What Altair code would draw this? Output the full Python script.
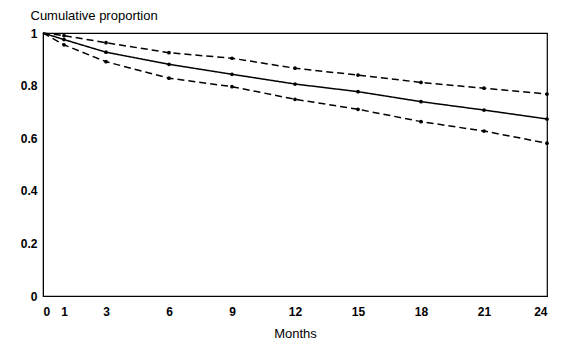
import altair as alt
import pandas as pd

months = [0, 1, 3, 6, 9, 12, 15, 18, 21, 24]
upper = [1.0, 0.99, 0.963, 0.925, 0.904, 0.866, 0.840, 0.812, 0.790, 0.768]
middle = [1.0, 0.975, 0.927, 0.881, 0.843, 0.806, 0.777, 0.739, 0.707, 0.673]
lower = [1.0, 0.955, 0.891, 0.828, 0.796, 0.748, 0.710, 0.663, 0.627, 0.581]
x_ticks = [0, 1, 3, 6, 9, 12, 15, 18, 21, 24]
y_ticks = [0, 0.2, 0.4, 0.6, 0.8, 1.0]

rows = []
for name, vals in [("upper", upper), ("middle", middle), ("lower", lower)]:
    for m, v in zip(months, vals):
        rows.append({"series": name, "month": m, "value": v})
df = pd.DataFrame(rows)

font = "Liberation Sans"

x_enc = alt.X("month:Q", scale=alt.Scale(domain=[0, 24], nice=False),
              axis=alt.Axis(values=x_ticks, title="Months", grid=False, ticks=False,
                            labelPadding=10, labelFontSize=12, labelFontWeight="bold",
                            titleFontSize=13, titleFontWeight="normal",
                            titleY=37, titleBaseline="middle", domainColor="black",
                            labelColor="black", titleColor="black", labelFont=font, titleFont=font))
y_enc = alt.Y("value:Q", scale=alt.Scale(domain=[0, 1], nice=False),
              axis=alt.Axis(values=y_ticks, format=".1~f", title="Cumulative proportion",
                            grid=False, ticks=False, labelPadding=6, labelFontSize=12,
                            labelFontWeight="bold", titleFontSize=13, titleFontWeight="normal",
                            titleAngle=0, titleAlign="left", titleBaseline="alphabetic",
                            titleX=-13, titleY=-14, domainColor="black",
                            labelColor="black", titleColor="black", labelFont=font, titleFont=font))

dash_scale = alt.Scale(domain=["upper", "middle", "lower"], range=[[7, 4], [1, 0], [7, 4]])

lines = alt.Chart(df).mark_line(color="black", strokeWidth=1.5).encode(
    x=x_enc, y=y_enc,
    strokeDash=alt.StrokeDash("series:N", scale=dash_scale, legend=None),
    detail="series:N",
)
points = alt.Chart(df[df["month"] > 0]).mark_point(filled=True, color="black", size=14, opacity=1).encode(
    x="month:Q", y="value:Q"
)

chart = (lines + points).properties(
    width=504, height=263,
    autosize=alt.AutoSizeParams(type="none"),
    padding={"left": 35, "top": 25, "right": 10, "bottom": 50},
).configure_view(stroke="black", strokeWidth=1.2)

chart.save("out.html", embed_options={"renderer": "svg", "actions": False})
